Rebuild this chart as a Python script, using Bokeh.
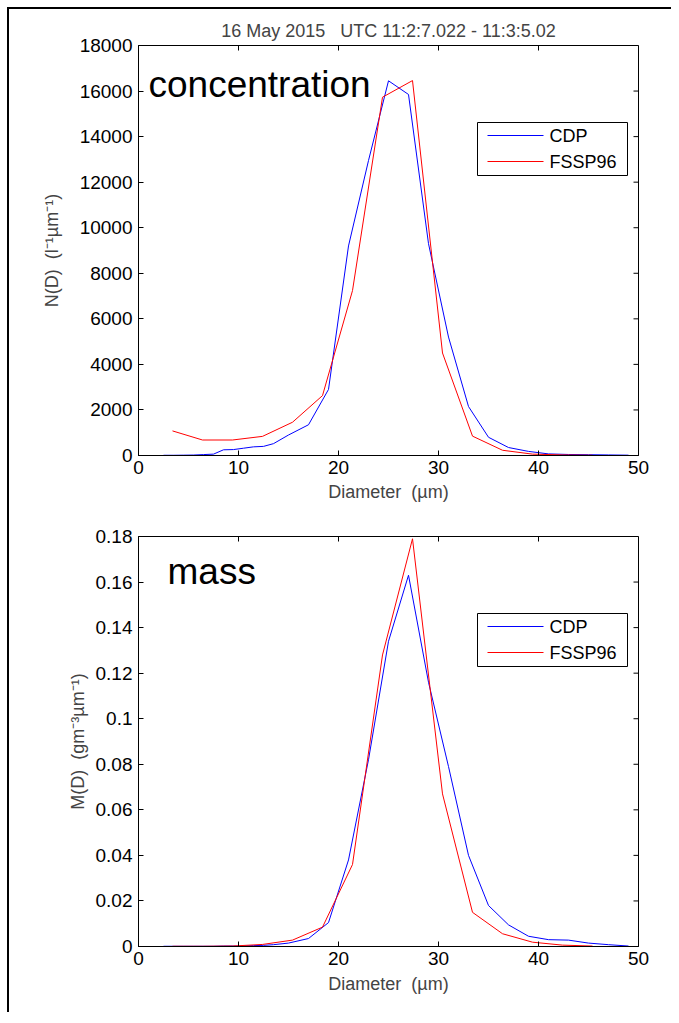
import math
from bokeh.plotting import figure
from bokeh.layouts import column, row
from bokeh.models import FixedTicker, Label, Range1d, Spacer, BoxAnnotation
from bokeh.embed import file_html
from bokeh.resources import INLINE

# ---------------- data ----------------
cdp_d = [2.5, 3.5, 4.5, 5.5, 6.5, 7.5, 8.5, 9.5, 10.5, 11.5, 12.5, 13.5, 15, 17, 19,
         21, 23, 25, 27, 29, 31, 33, 35, 37, 39, 41, 43, 45, 47, 49]
cdp_n = [10, 10, 15, 20, 40, 60, 250, 260, 320, 380, 400, 520, 900, 1350, 2900,
         9200, 12950, 16450, 15850, 9300, 5200, 2150, 800, 350, 180, 70, 45, 35, 25, 15]
cdp_m = [0.0001, 0.0001, 0.0001, 0.0001, 0.0001, 0.0001, 0.0002, 0.0002, 0.0002, 0.0004,
         0.0005, 0.0008, 0.0015, 0.0035, 0.0105, 0.038, 0.082, 0.134, 0.163, 0.116,
         0.079, 0.040, 0.018, 0.0095, 0.0045, 0.003, 0.0028, 0.0015, 0.0008, 0.0002]

fssp_d = [3.4, 6.4, 9.4, 12.4, 15.4, 18.4, 21.4, 24.4, 27.4, 30.4, 33.4, 36.4, 39.4, 42.4, 45.4]
fssp_n = [1080, 680, 680, 840, 1460, 2630, 7240, 15730, 16460, 4500, 850, 230, 60, 25, 10]
fssp_m = [0.0001, 0.0001, 0.0002, 0.0009, 0.0028, 0.0085, 0.036, 0.128, 0.179, 0.067,
          0.015, 0.0056, 0.0019, 0.0006, 0.0002]

x_ticks = [0, 10, 20, 30, 40, 50]
n_ticks = [0, 2000, 4000, 6000, 8000, 10000, 12000, 14000, 16000, 18000]
m_ticks = [0, 0.02, 0.04, 0.06, 0.08, 0.1, 0.12, 0.14, 0.16, 0.18]
m_tick_labels = ["0", "0.02", "0.04", "0.06", "0.08", "0.1", "0.12", "0.14", "0.16", "0.18"]

title_text = "16 May 2015\u00a0\u00a0 UTC 11:2:7.022 - 11:3:5.02"
x_label = "Diameter\u00a0 (µm)"
n_label = "N(D)\u00a0 (l⁻¹µm⁻¹)"
m_label = "M(D)\u00a0 (gm⁻³µm⁻¹)"
series_names = ["CDP", "FSSP96"]
series_colors = ["#0000FF", "#FF0000"]

FONT = "Liberation Sans"
TICK_SIZE = "19px"
LABEL_SIZE = "18px"
FRAME_W, FRAME_H = 500, 410


def style_axes(p, yticks, overrides=None):
    for ax in p.xaxis + p.yaxis:
        ax.major_tick_in = 5
        ax.major_tick_out = 0
        ax.minor_tick_line_color = None
        ax.major_label_text_font = FONT
        ax.major_label_text_font_size = TICK_SIZE
        ax.major_label_text_color = "black"
        ax.axis_label_text_font = FONT
        ax.axis_label_text_font_size = LABEL_SIZE
        ax.axis_label_text_font_style = "normal"
        ax.axis_line_color = "black"
        ax.major_tick_line_color = "black"
    p.xaxis.ticker = FixedTicker(ticks=x_ticks)
    p.yaxis.ticker = FixedTicker(ticks=yticks)
    if overrides:
        p.yaxis.major_label_overrides = overrides
    p.xaxis.major_label_standoff = 5
    p.yaxis.major_label_standoff = 6
    p.xgrid.grid_line_color = None
    p.ygrid.grid_line_color = None
    p.outline_line_color = "black"
    p.outline_line_width = 1


def add_box_ticks(p, yticks):
    # inward ticks on the top and right edges of the box
    xr, yr = p.x_range, p.y_range
    p.ray(x=x_ticks, y=[yr.end] * len(x_ticks), length=5, length_units="screen",
          angle=-math.pi / 2, line_color="black", line_width=1)
    p.ray(x=[xr.end] * len(yticks), y=yticks, length=5, length_units="screen",
          angle=math.pi, line_color="black", line_width=1)


# legend box layout (screen px, relative to the plot frame's bottom-left corner)
LG_LEFT, LG_RIGHT, LG_TOP, LG_BOTTOM = 339, 489, 333, 280
LG_LINE_X0, LG_LINE_LEN, LG_TEXT_X = 349, 56, 411
LG_ROW_Y = [320, 294]


def add_legend(p):
    xr, yr = p.x_range, p.y_range
    p.add_layout(BoxAnnotation(left=LG_LEFT, right=LG_RIGHT, top=LG_TOP, bottom=LG_BOTTOM,
                               left_units="screen", right_units="screen",
                               top_units="screen", bottom_units="screen",
                               fill_color="white", fill_alpha=1, level="underlay",
                               line_color="black", line_width=1, line_alpha=1))
    for name, color, yc in zip(series_names, series_colors, LG_ROW_Y):
        # legend key line: a short ray of fixed screen length, placed from the frame layout
        x0 = xr.start + LG_LINE_X0 / FRAME_W * (xr.end - xr.start)
        y0 = yr.start + yc / FRAME_H * (yr.end - yr.start)
        p.ray(x=[x0], y=[y0], length=LG_LINE_LEN, length_units="screen", angle=0,
              line_color=color, line_width=1)
        p.add_layout(Label(x=LG_TEXT_X, y=yc, x_units="screen", y_units="screen", text=name,
                           text_font=FONT, text_font_size="18px", text_color="black",
                           text_baseline="middle"))


# ---------------- top figure ----------------
p1 = figure(width=662, height=500, output_backend="svg", toolbar_location=None,
            x_range=Range1d(0, 50), y_range=Range1d(0, 18000),
            min_border_left=129, min_border_right=33, min_border_top=36, min_border_bottom=54)
p1.title.text = title_text
p1.title.align = "center"
p1.title.text_font = FONT
p1.title.text_font_size = "18px"
p1.title.text_font_style = "normal"
p1.line(cdp_d, cdp_n, line_color=series_colors[0], line_width=1)
p1.line(fssp_d, fssp_n, line_color=series_colors[1], line_width=1)
add_box_ticks(p1, n_ticks)
p1.xaxis.axis_label = x_label
p1.yaxis.axis_label = n_label
style_axes(p1, n_ticks)
p1.yaxis.axis_label_standoff = 15
p1.xaxis.axis_label_standoff = 5
add_legend(p1)
p1.add_layout(Label(x=10, y=351, x_units="screen", y_units="screen", text="concentration",
                    text_font=FONT, text_font_size="37px", text_color="black"))

# ---------------- bottom figure ----------------
p2 = figure(width=662, height=503, output_backend="svg", toolbar_location=None,
            x_range=Range1d(0, 50), y_range=Range1d(0, 0.18),
            min_border_left=129, min_border_right=33, min_border_top=27, min_border_bottom=66)
p2.line(cdp_d, cdp_m, line_color=series_colors[0], line_width=1)
p2.line(fssp_d, fssp_m, line_color=series_colors[1], line_width=1)
add_box_ticks(p2, m_ticks)
p2.xaxis.axis_label = x_label
p2.yaxis.axis_label = m_label
style_axes(p2, m_ticks, dict(zip(m_ticks, m_tick_labels)))
p2.yaxis.axis_label_standoff = 5
p2.xaxis.axis_label_standoff = 6
add_legend(p2)
p2.add_layout(Label(x=29, y=355, x_units="screen", y_units="screen", text="mass",
                    text_font=FONT, text_font_size="37px", text_color="black"))

framed = column(p1, p2, spacing=0,
                styles={"border-left": "2px solid black", "border-top": "2px solid black"})
layout = row(Spacer(width=7, height=10),
             column(Spacer(width=10, height=7), framed, spacing=0), spacing=0)

open("out.html", "w").write(file_html(layout, INLINE))
